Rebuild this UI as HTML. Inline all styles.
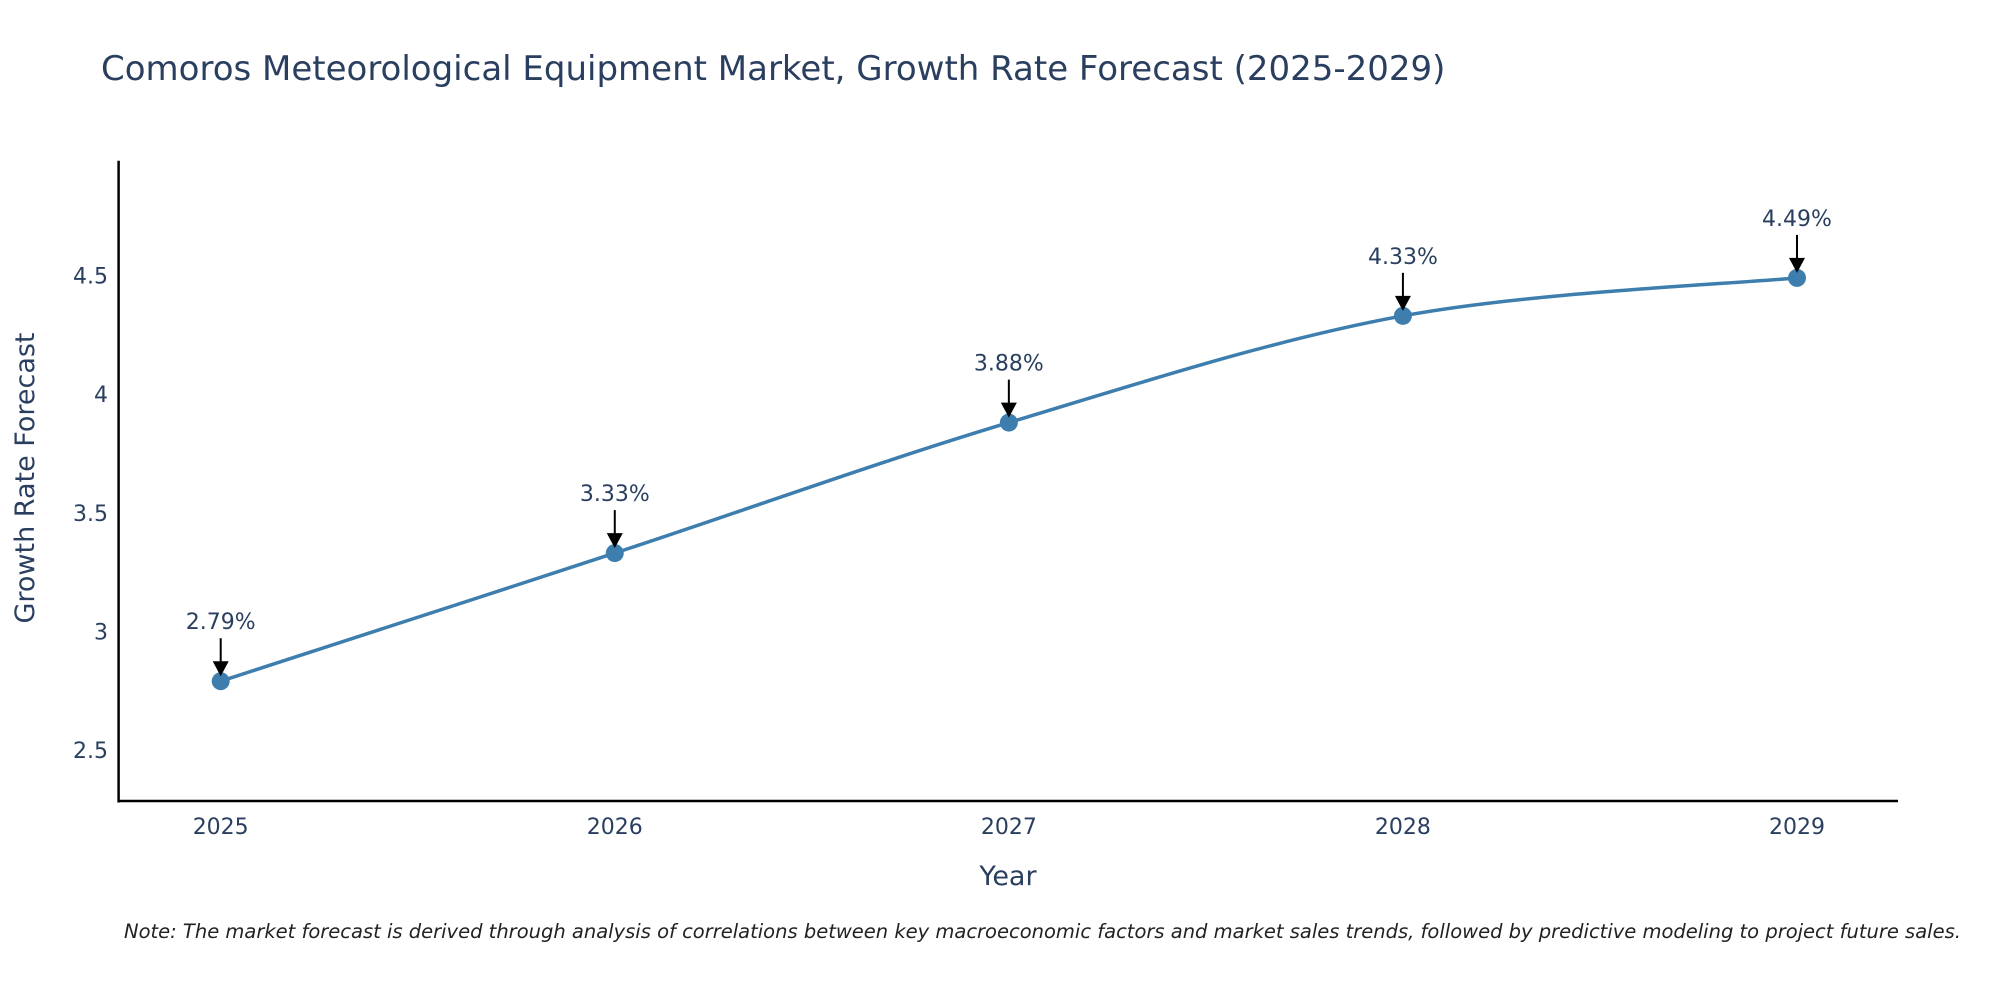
<!DOCTYPE html>
<html><head><meta charset="utf-8"><style>
body{margin:0;background:#fff;}
svg text{font-family:"DejaVu Sans","Liberation Sans",sans-serif;}
</style></head><body>
<svg id="chart" width="2000" height="1000" viewBox="0 0 2000 1000" xmlns="http://www.w3.org/2000/svg">
<rect width="2000" height="1000" fill="#fff"/>
<text x="101" y="80" font-size="34" fill="#2a3f5f">Comoros Meteorological Equipment Market, Growth Rate Forecast (2025-2029)</text>
<g id="plot"></g>
<text x="1008" y="885" font-size="27" fill="#2a3f5f" text-anchor="middle">Year</text>
<text transform="translate(34,478) rotate(-90)" font-size="27" fill="#2a3f5f" text-anchor="middle">Growth Rate Forecast</text>
<text x="124" y="938" font-size="19.5" font-style="italic" fill="#222">Note: The market forecast is derived through analysis of correlations between key macroeconomic factors and market sales trends, followed by predictive modeling to project future sales.</text>
</svg>
<script>
const years = [2025, 2026, 2027, 2028, 2029];
const values = [2.79, 3.33, 3.88, 4.33, 4.49];
const labels = ["2.79%", "3.33%", "3.88%", "4.33%", "4.49%"];
const yTicks = [2.5, 3, 3.5, 4, 4.5];
const yTickLabels = ["2.5", "3", "3.5", "4", "4.5"];

const NS = "http://www.w3.org/2000/svg";
const g = document.getElementById('plot');
const L = 118.6, R = 1898, T = 160.7, B = 801;
const yMin = 2.285, yMax = 4.984;
function xs(yr){ return 220.7 + (yr - years[0]) * (1797 - 220.7) / (years[years.length-1] - years[0]); }
function ys(v){ return B - (v - yMin) / (yMax - yMin) * (B - T); }
function mk(tag, attrs){ const e = document.createElementNS(NS, tag); for (const k in attrs) e.setAttribute(k, attrs[k]); g.appendChild(e); return e; }

let e;
e = mk('line', {x1:L, y1:T, x2:L, y2:B+1.5, stroke:'#000', 'stroke-width':2.5});


e = mk('line', {x1:L-1, y1:B, x2:R, y2:B, stroke:'#000', 'stroke-width':2.5});



yTicks.forEach((t, i) => {
  const el = mk('text', {x:108, y:ys(t)+8, 'font-size':22, fill:'#2a3f5f', 'text-anchor':'end'});
  el.textContent = yTickLabels[i];
  
  
});
years.forEach(yr => {
  const el = mk('text', {x:xs(yr), y:834, 'font-size':22, fill:'#2a3f5f', 'text-anchor':'middle'});
  el.textContent = String(yr);
  
  
});

const pts = years.map((yr, i) => [xs(yr), ys(values[i])]);
let d = 'M' + pts[0][0] + ',' + pts[0][1];
for (let i = 0; i < pts.length - 1; i++) {
  const p0 = pts[Math.max(i-1,0)], p1 = pts[i], p2 = pts[i+1], p3 = pts[Math.min(i+2,pts.length-1)];
  const k = 1/6;
  const c1 = [p1[0] + (p2[0]-p0[0])*k, p1[1] + (p2[1]-p0[1])*k];
  const c2 = [p2[0] - (p3[0]-p1[0])*k, p2[1] - (p3[1]-p1[1])*k];
  d += ' C' + c1 + ' ' + c2 + ' ' + p2;
}
e = mk('path', {d:d, fill:'none', stroke:'#3d7eae', 'stroke-width':3.5});



pts.forEach((p, i) => {
  const c = mk('circle', {cx:p[0], cy:p[1], r:9, fill:'#3d7eae'});
  
  
  const a = mk('line', {x1:p[0], y1:p[1]-43, x2:p[0], y2:p[1]-18, stroke:'#000', 'stroke-width':2});
  
  
  const h = mk('path', {d:`M${p[0]-8},${p[1]-20} L${p[0]+8},${p[1]-20} L${p[0]},${p[1]-5} Z`, fill:'#000'});
  
  
  const t = mk('text', {x:p[0], y:p[1]-52, 'font-size':22, fill:'#2a3f5f', 'text-anchor':'middle'});
  t.textContent = labels[i];
  
  
});
</script>
</body></html>
